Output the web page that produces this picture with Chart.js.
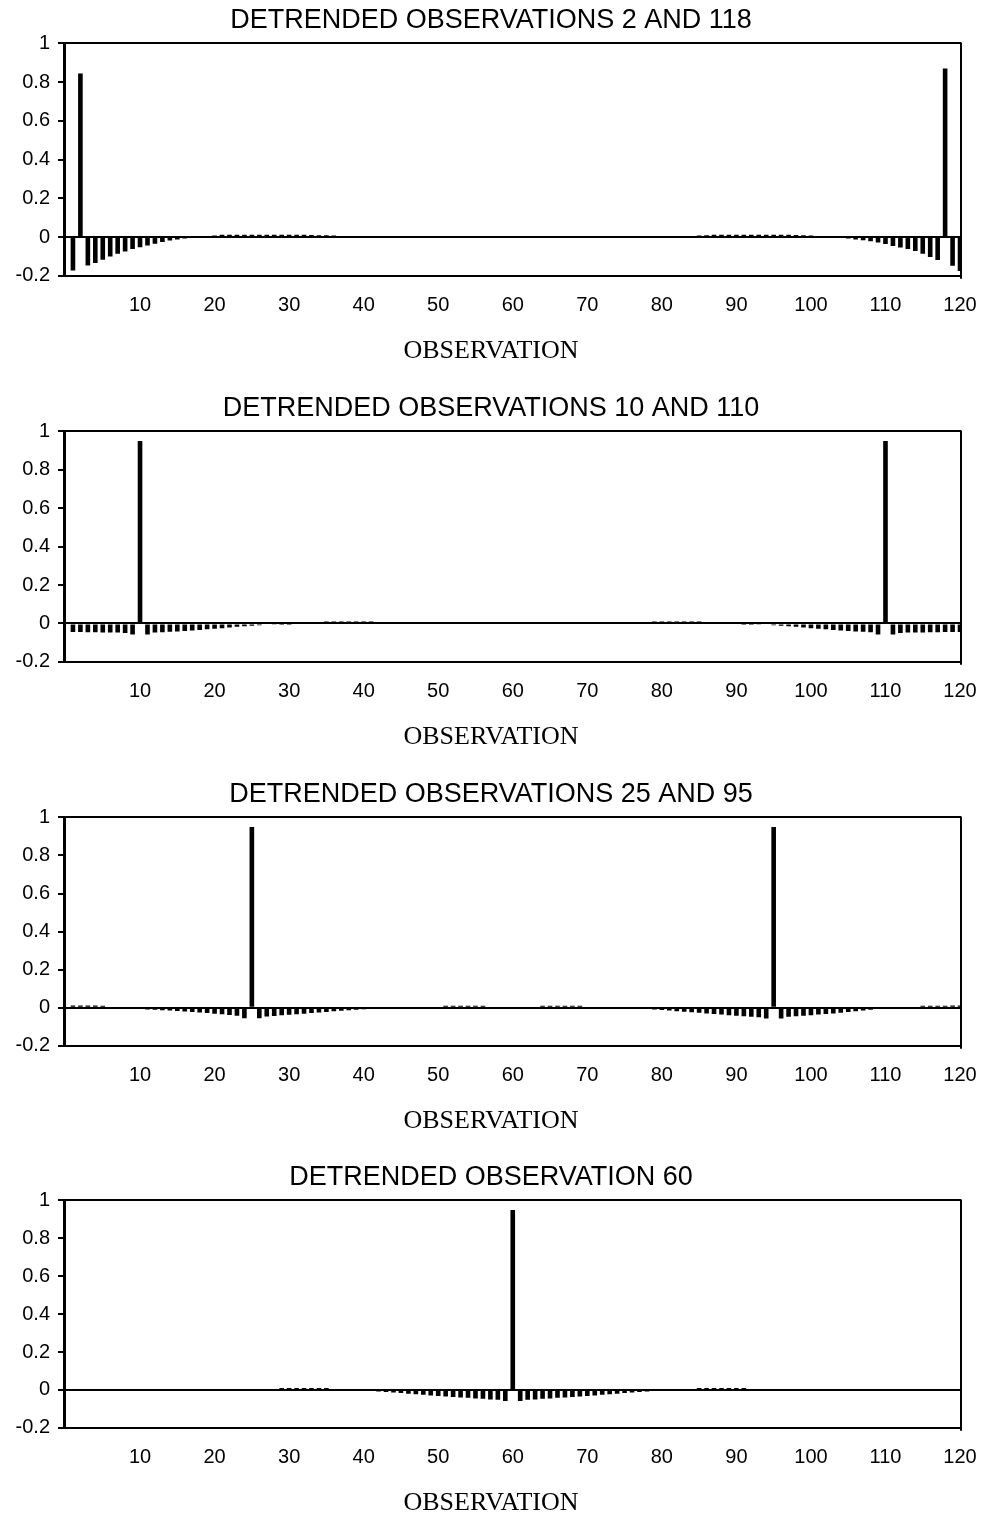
<!DOCTYPE html>
<html>
<head>
<meta charset="utf-8">
<title>Detrended observations</title>
<script src="https://cdn.jsdelivr.net/npm/chart.js@4/dist/chart.umd.min.js"></script>
<style>
  html, body { margin: 0; padding: 0; background: #fff; overflow: hidden; }
  #page { position: relative; width: 982px; height: 1520px; }
  .panel { position: absolute; left: 0; width: 982px; }
</style>
</head>
<body>
<div id="page">
  <div class="panel" style="top:0px"><canvas id="chart1" width="982" height="367"></canvas></div>
  <div class="panel" style="top:388px"><canvas id="chart2" width="982" height="365"></canvas></div>
  <div class="panel" style="top:774px"><canvas id="chart3" width="982" height="363"></canvas></div>
  <div class="panel" style="top:1157px"><canvas id="chart4" width="982" height="362"></canvas></div>
</div>
<script>
// observation numbers 1..120
const observations = Array.from({ length: 120 }, (_, i) => i + 1);

const xTicks = [10, 20, 30, 40, 50, 60, 70, 80, 90, 100, 110, 120];
const yTicks = [-0.2, 0, 0.2, 0.4, 0.6, 0.8, 1];
const yTickLabels = ['-0.2', '0', '0.2', '0.4', '0.6', '0.8', '1'];

const panelTitles = [
  'DETRENDED OBSERVATIONS 2 AND 118',
  'DETRENDED OBSERVATIONS 10 AND 110',
  'DETRENDED OBSERVATIONS 25 AND 95',
  'DETRENDED OBSERVATION 60'
];
const xAxisTitle = 'OBSERVATION';

// values, 10 per line
const detrended2and118 = [
  -0.172, 0.845, -0.147, -0.134, -0.117, -0.100, -0.086, -0.074, -0.062, -0.052,
  -0.043, -0.034, -0.026, -0.018, -0.012, -0.007, -0.003, 0.002, 0.005, 0.008,
  0.012, 0.012, 0.012, 0.012, 0.012, 0.012, 0.012, 0.012, 0.012, 0.012,
  0.012, 0.012, 0.011, 0.010, 0.009, 0.008, 0.006, 0, 0, 0,
  0, 0, 0, 0, 0, 0, 0, 0, 0, 0,
  0, 0, 0, 0, 0, 0, 0, 0, 0, 0,
  0, 0, 0, 0, 0, 0, 0, 0, 0, 0,
  0, 0, 0, 0, 0, 0, 0, 0, 0, 0,
  0, 0, 0, 0.006, 0.008, 0.010, 0.012, 0.012, 0.012, 0.012,
  0.012, 0.012, 0.012, 0.012, 0.012, 0.012, 0.012, 0.011, 0.010, 0.008,
  0.006, 0, 0, -0.004, -0.008, -0.012, -0.017, -0.022, -0.028, -0.036,
  -0.046, -0.054, -0.062, -0.072, -0.086, -0.103, -0.118, 0.870, -0.148, -0.175
];

const detrended10and110 = [
  -0.045, -0.045, -0.046, -0.046, -0.047, -0.047, -0.048, -0.050, -0.058, 0.950,
  -0.058, -0.048, -0.046, -0.044, -0.042, -0.040, -0.037, -0.034, -0.031, -0.028,
  -0.025, -0.021, -0.018, -0.015, -0.012, -0.009, -0.006, -0.004, -0.002, -0.001,
  0, 0, 0, 0, 0.010, 0.010, 0.010, 0.010, 0.010, 0.010,
  0.010, 0, 0, 0, 0, 0, 0, 0, 0, 0,
  0, 0, 0, 0, 0, 0, 0, 0, 0, 0,
  0, 0, 0, 0, 0, 0, 0, 0, 0, 0,
  0, 0, 0, 0, 0, 0, 0, 0, 0.010, 0.010,
  0.010, 0.010, 0.010, 0.010, 0.010, 0, 0, 0, 0, 0,
  -0.001, -0.002, -0.004, -0.006, -0.009, -0.012, -0.015, -0.018, -0.021, -0.025,
  -0.028, -0.031, -0.034, -0.037, -0.040, -0.042, -0.044, -0.046, -0.058, 0.950,
  -0.058, -0.050, -0.048, -0.047, -0.047, -0.046, -0.046, -0.045, -0.045, -0.045
];

const detrended25and95 = [
  0.012, 0.012, 0.012, 0.012, 0.010, 0, 0, -0.003, -0.005, -0.007,
  -0.009, -0.011, -0.013, -0.015, -0.017, -0.020, -0.022, -0.025, -0.028, -0.031,
  -0.034, -0.038, -0.042, -0.055, 0.950, -0.055, -0.046, -0.043, -0.040, -0.037,
  -0.034, -0.031, -0.028, -0.025, -0.022, -0.019, -0.016, -0.013, -0.010, -0.008,
  -0.006, -0.004, -0.003, -0.002, 0, 0, 0, 0, 0, 0,
  0.010, 0.010, 0.010, 0.010, 0.010, 0.010, 0, 0, 0, 0,
  0, 0, 0, 0.010, 0.010, 0.010, 0.010, 0.010, 0.010, 0,
  0, 0, 0, 0, 0, -0.002, -0.004, -0.006, -0.009, -0.012,
  -0.015, -0.018, -0.021, -0.024, -0.027, -0.030, -0.033, -0.036, -0.039, -0.042,
  -0.045, -0.048, -0.050, -0.056, 0.950, -0.056, -0.048, -0.045, -0.042, -0.039,
  -0.036, -0.033, -0.030, -0.026, -0.022, -0.018, -0.014, -0.010, -0.007, -0.004,
  0, 0, 0, 0, 0.010, 0.010, 0.010, 0.010, 0.012, 0.012
];

const detrended60 = [
  0, 0, 0, 0, 0, 0, 0, 0, 0, 0,
  0, 0, 0, 0, 0, 0, 0, 0, 0, 0,
  0, 0, 0, 0, 0, 0, 0, 0, 0.010, 0.010,
  0.010, 0.010, 0.010, 0.010, 0.010, 0, 0, 0, 0, 0,
  -0.005, -0.008, -0.011, -0.014, -0.017, -0.020, -0.023, -0.026, -0.029, -0.032,
  -0.035, -0.037, -0.040, -0.042, -0.045, -0.047, -0.050, -0.052, -0.058, 0.950,
  -0.058, -0.052, -0.050, -0.047, -0.045, -0.042, -0.040, -0.037, -0.035, -0.032,
  -0.029, -0.026, -0.023, -0.020, -0.017, -0.014, -0.011, -0.008, -0.005, 0,
  0, 0, 0, 0, 0.010, 0.010, 0.010, 0.010, 0.010, 0.010,
  0.010, 0, 0, 0, 0, 0, 0, 0, 0, 0,
  0, 0, 0, 0, 0, 0, 0, 0, 0, 0,
  0, 0, 0, 0, 0, 0, 0, 0, 0, 0
];

const panelSeries = [detrended2and118, detrended10and110, detrended25and95, detrended60];

// right edge of the frame (the left one is the y axis, top/bottom are grid lines)
const rightFrame = {
  id: 'rightFrame',
  afterDraw(chart) {
    const { ctx, chartArea } = chart;
    ctx.save();
    ctx.strokeStyle = '#000';
    ctx.lineWidth = 2;
    ctx.beginPath();
    ctx.moveTo(chartArea.right, chartArea.top - 1);
    ctx.lineTo(chartArea.right, chartArea.bottom + 3);
    ctx.stroke();
    ctx.restore();
  }
};

const sansFont = "'Liberation Sans', Arial, sans-serif";
const serifFont = "'Liberation Serif', 'Times New Roman', serif";
const frameValues = [-0.2, 0, 1];

panelSeries.forEach(function (series, p) {
  const ctx = document.getElementById('chart' + (p + 1)).getContext('2d');
  new Chart(ctx, {
    type: 'bar',
    data: {
      datasets: [{
        data: series.map((v, i) => ({ x: observations[i], y: v })),
        backgroundColor: '#000',
        borderWidth: 0,
        barPercentage: 0.62,
        categoryPercentage: 1
      }]
    },
    options: {
      responsive: false,
      animation: false,
      devicePixelRatio: 1,
      layout: { padding: 0 },
      plugins: {
        legend: { display: false },
        tooltip: { enabled: false },
        title: {
          display: true,
          text: panelTitles[p],
          color: '#000',
          font: { family: sansFont, size: 27, weight: 'normal' },
          padding: { top: 4, bottom: 7 }
        },
        subtitle: {
          display: true,
          position: 'bottom',
          text: xAxisTitle,
          color: '#000',
          font: { family: serifFont, size: 26, weight: 'normal' },
          padding: { top: 0, bottom: 0 }
        }
      },
      scales: {
        x: {
          type: 'linear',
          min: -0.2,
          max: 120.13,
          offset: false,
          afterBuildTicks: s => { s.ticks = xTicks.map(v => ({ value: v })); },
          // keep the plot's right edge 21px in from the canvas edge
          afterFit: s => { s.paddingLeft = 0; s.paddingRight = 21; },
          ticks: {
            color: '#000',
            font: { family: sansFont, size: 20 },
            padding: 18,
            maxRotation: 0,
            autoSkip: false
          },
          grid: { display: false, drawTicks: false, offset: false },
          border: { display: false }
        },
        y: {
          min: -0.2,
          max: 1,
          afterBuildTicks: s => { s.ticks = yTicks.map(v => ({ value: v })); },
          afterFit: s => { s.width = 64; },
          ticks: {
            color: '#000',
            font: { family: sansFont, size: 20 },
            padding: 8,
            callback: (v, i) => yTickLabels[i]
          },
          grid: {
            color: c => frameValues.some(v => Math.abs(v - c.tick.value) < 1e-9) ? '#000' : 'rgba(0,0,0,0)',
            lineWidth: 2,
            tickColor: '#000',
            tickLength: 6,
            tickWidth: 2
          },
          border: { display: true, color: '#000', width: 3 }
        }
      }
    },
    plugins: [rightFrame]
  });
});
</script>
</body>
</html>
